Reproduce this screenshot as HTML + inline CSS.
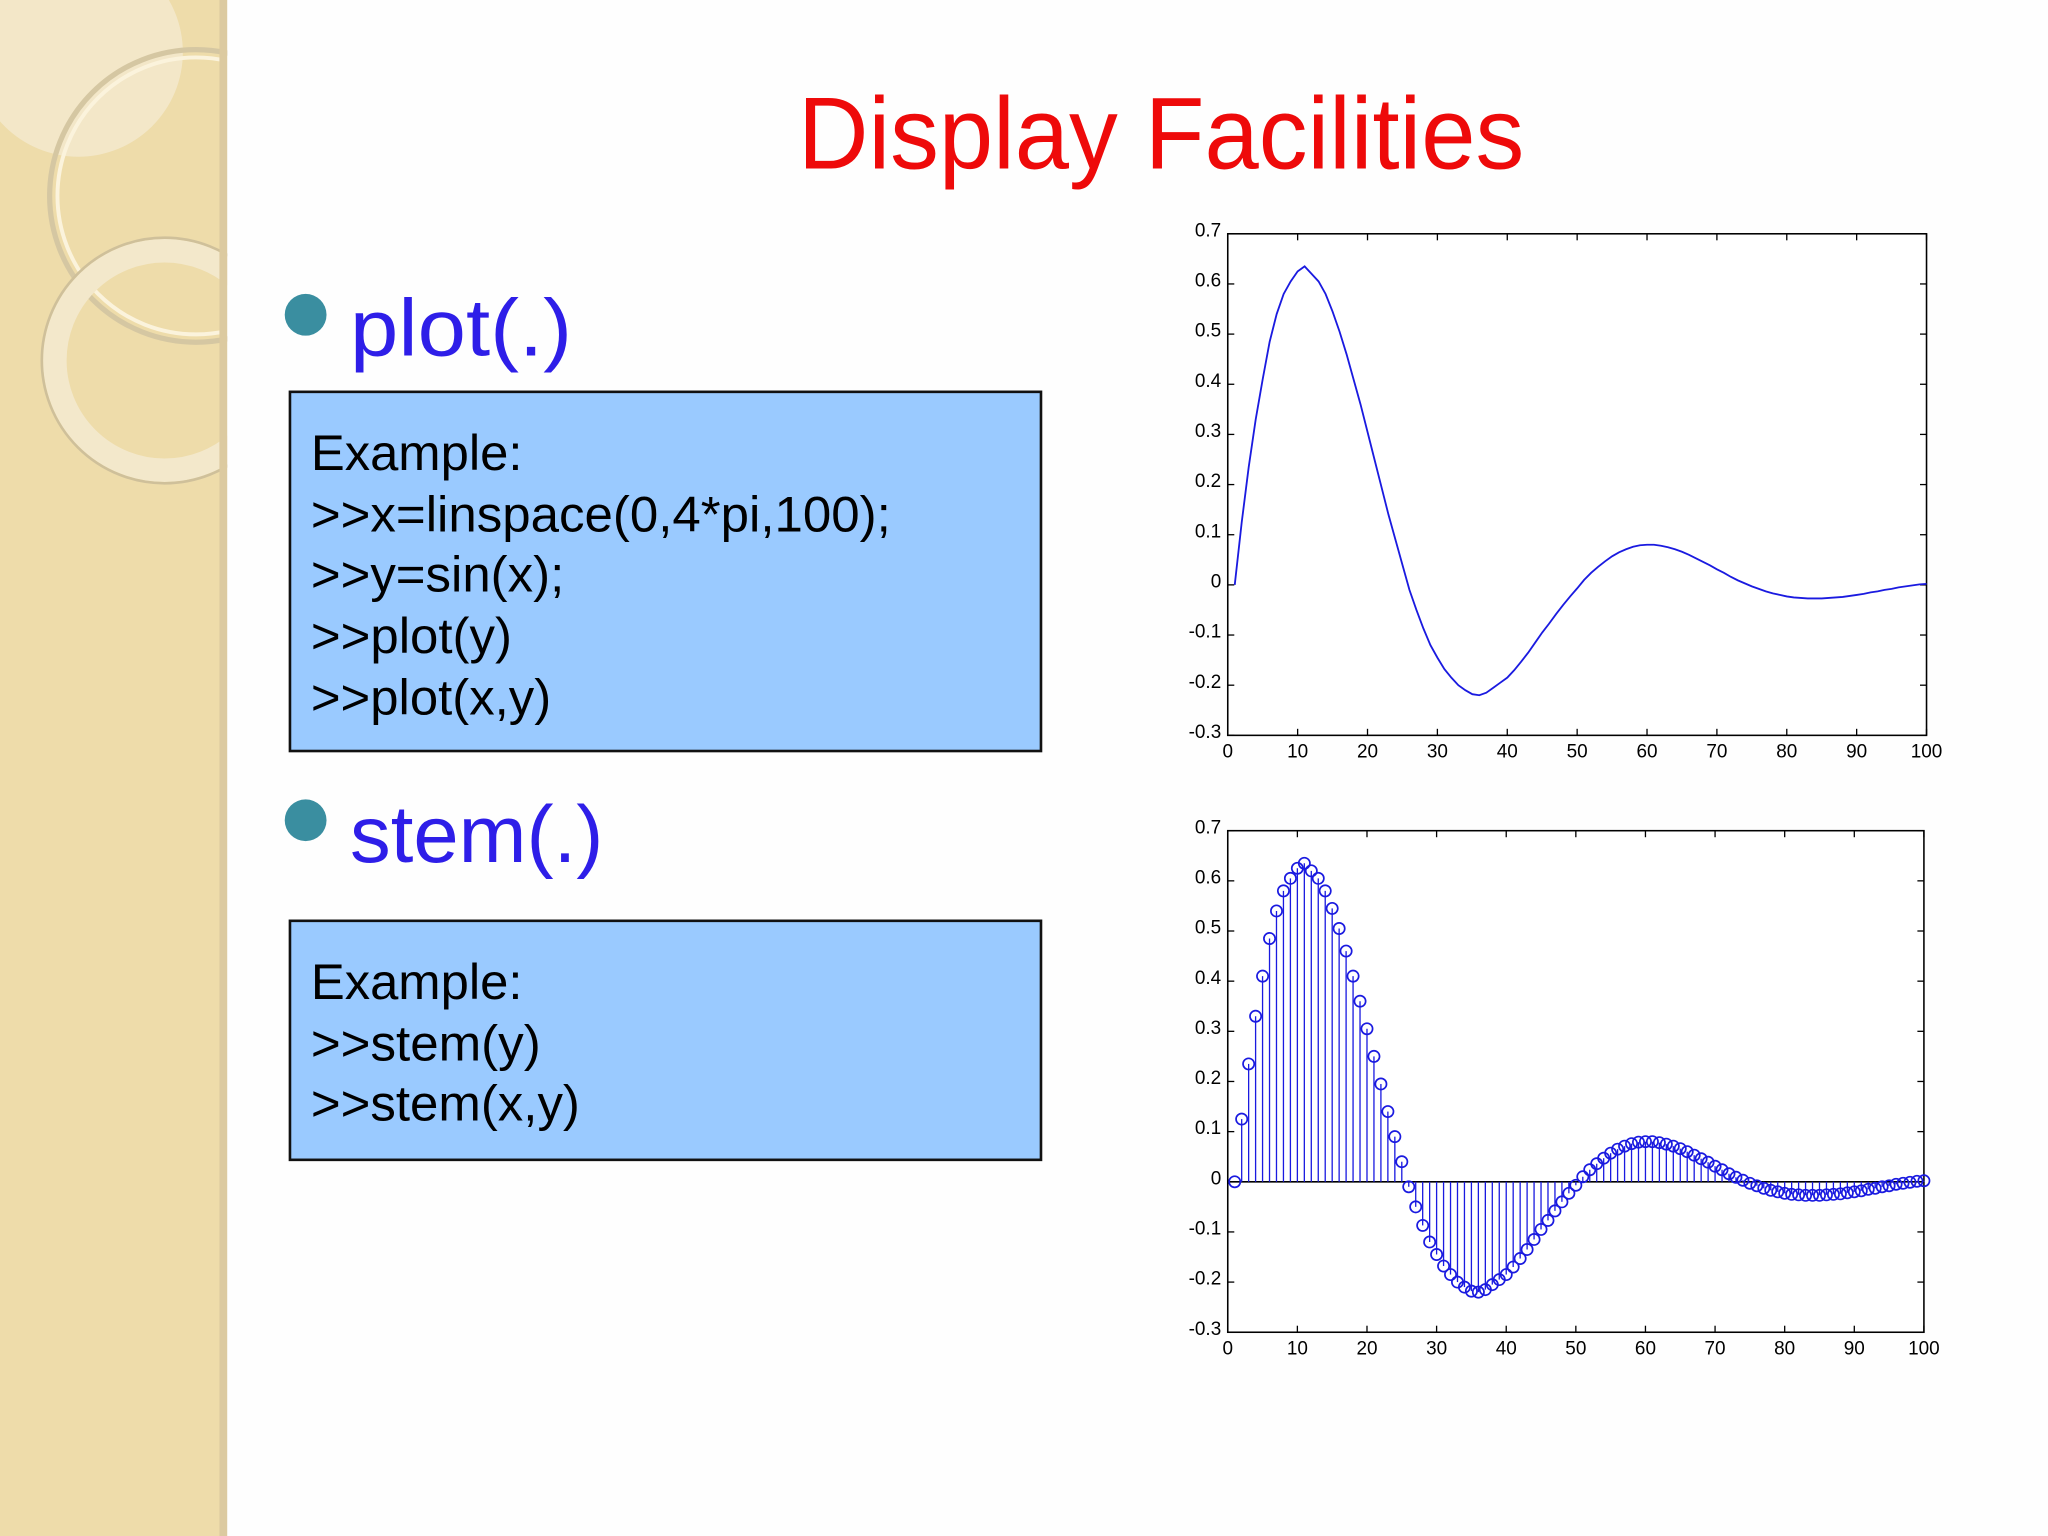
<!DOCTYPE html>
<html><head><meta charset="utf-8"><style>
html,body{margin:0;padding:0;background:#fff;}
svg{display:block;}
text{font-family:"Liberation Sans",sans-serif;}
</style></head><body>
<svg id="slide" width="2048" height="1536" viewBox="0 0 1568 1176" preserveAspectRatio="none" xmlns="http://www.w3.org/2000/svg">
<defs><clipPath id="panelclip"><rect x="0" y="0" width="174" height="1176"/></clipPath></defs>
<rect x="0" y="0" width="1568" height="1176" fill="#fefefe"/>
<g clip-path="url(#panelclip)">
<rect x="0" y="0" width="174" height="1176" fill="#eedcaa"/>
<circle cx="60" cy="40" r="80" fill="#f4ead0" opacity="0.8"/>
<circle cx="150" cy="150" r="112" fill="none" stroke="#d5c7a2" stroke-width="4"/>
<circle cx="150" cy="150" r="106" fill="none" stroke="#fbf3dc" stroke-width="3"/>
<circle cx="126" cy="276" r="84" fill="none" stroke="#f3e8cb" stroke-width="18"/>
<circle cx="126" cy="276" r="94" fill="none" stroke="#cfc09a" stroke-width="2"/>
<rect x="168" y="0" width="6" height="1176" fill="#dccaa0"/>
</g>
<text x="889" y="129" text-anchor="middle" font-size="78" fill="#ee0a0a" textLength="556" lengthAdjust="spacingAndGlyphs">Display Facilities</text>

<circle cx="234" cy="241" r="16" fill="#3a8ea0"/>
<text x="268" y="272" font-size="62" fill="#2e1ee8" textLength="170" lengthAdjust="spacingAndGlyphs">plot(.)</text>
<g>
<rect x="222" y="300" width="575" height="275" fill="#9acaff" stroke="#111" stroke-width="2"/>
<text x="238" y="360" font-size="38" fill="#000" textLength="162" lengthAdjust="spacingAndGlyphs">Example:</text>
<text x="238" y="407" font-size="38" fill="#000" textLength="444" lengthAdjust="spacingAndGlyphs">&gt;&gt;x=linspace(0,4*pi,100);</text>
<text x="238" y="453" font-size="38" fill="#000" textLength="194" lengthAdjust="spacingAndGlyphs">&gt;&gt;y=sin(x);</text>
<text x="238" y="500" font-size="38" fill="#000" textLength="154" lengthAdjust="spacingAndGlyphs">&gt;&gt;plot(y)</text>
<text x="238" y="547" font-size="38" fill="#000" textLength="184" lengthAdjust="spacingAndGlyphs">&gt;&gt;plot(x,y)</text>
</g>

<circle cx="234" cy="628" r="16" fill="#3a8ea0"/>
<text x="268" y="660" font-size="62" fill="#2e1ee8" textLength="194" lengthAdjust="spacingAndGlyphs">stem(.)</text>
<g>
<rect x="222" y="705" width="575" height="183" fill="#9acaff" stroke="#111" stroke-width="2"/>
<text x="238" y="765" font-size="38" fill="#000" textLength="162" lengthAdjust="spacingAndGlyphs">Example:</text>
<text x="238" y="812" font-size="38" fill="#000" textLength="176" lengthAdjust="spacingAndGlyphs">&gt;&gt;stem(y)</text>
<text x="238" y="858" font-size="38" fill="#000" textLength="206" lengthAdjust="spacingAndGlyphs">&gt;&gt;stem(x,y)</text>
</g>
<g id="plot-chart"></g>
<g id="stem-chart"></g>
</svg>
<script>
const yValues = [0,0.125,0.235,0.33,0.41,0.485,0.54,0.58,0.605,0.625,0.635,0.62,0.605,0.58,0.545,0.505,0.46,0.41,0.36,0.305,0.25,0.195,0.14,0.09,0.04,-0.01,-0.05,-0.087,-0.12,-0.145,-0.168,-0.185,-0.2,-0.21,-0.218,-0.22,-0.215,-0.205,-0.195,-0.185,-0.17,-0.153,-0.135,-0.115,-0.095,-0.077,-0.058,-0.04,-0.023,-0.007,0.01,0.024,0.036,0.047,0.057,0.065,0.071,0.076,0.079,0.08,0.08,0.078,0.075,0.071,0.066,0.06,0.053,0.046,0.039,0.031,0.024,0.016,0.009,0.003,-0.003,-0.008,-0.013,-0.017,-0.02,-0.023,-0.025,-0.026,-0.027,-0.027,-0.027,-0.026,-0.025,-0.024,-0.022,-0.02,-0.018,-0.015,-0.013,-0.01,-0.008,-0.005,-0.003,-0.001,0.001,0.002];
const xTicks = [0,10,20,30,40,50,60,70,80,90,100];
const yTicks = [-0.3,-0.2,-0.1,0,0.1,0.2,0.3,0.4,0.5,0.6,0.7];
const yTickLabels = ["-0.3","-0.2","-0.1","0","0.1","0.2","0.3","0.4","0.5","0.6","0.7"];
const NS = "http://www.w3.org/2000/svg";
function mk(tag, attrs, parent){const e=document.createElementNS(NS,tag);for(const k in attrs)e.setAttribute(k,attrs[k]);parent.appendChild(e);return e;}
function drawChart(g, box, kind){
  const xs = v => box.l + (v-0)/(100-0)*(box.r-box.l);
  const ys = v => box.b - (v+0.3)/(1.0)*(box.b-box.t);
  const frame = mk('rect',{x:box.l,y:box.t,width:box.r-box.l,height:box.b-box.t,fill:'#fff',stroke:'#000','stroke-width':1.2},g);
  
  
  xTicks.forEach(t=>{
    const x=xs(t);
    mk('line',{x1:x,y1:box.b,x2:x,y2:box.b-5,stroke:'#000','stroke-width':1},g);
    mk('line',{x1:x,y1:box.t,x2:x,y2:box.t+5,stroke:'#000','stroke-width':1},g);
    const tl=mk('text',{x:x,y:box.b+17,'text-anchor':'middle','font-size':14.5,fill:'#000'},g);
    tl.textContent=t;
    
    
  });
  yTicks.forEach((t,i)=>{
    const y=ys(t);
    mk('line',{x1:box.l,y1:y,x2:box.l+5,y2:y,stroke:'#000','stroke-width':1},g);
    mk('line',{x1:box.r,y1:y,x2:box.r-5,y2:y,stroke:'#000','stroke-width':1},g);
    const tl=mk('text',{x:box.l-5,y:y+2,'text-anchor':'end','font-size':14.5,fill:'#000'},g);
    tl.textContent=yTickLabels[i];
    
    
  });
  if(kind==='line'){
    const d=yValues.map((v,i)=>(i?'L':'M')+xs(i+1).toFixed(2)+' '+ys(v).toFixed(2)).join(' ');
    const p=mk('path',{d:d,fill:'none',stroke:'#1a1ae0','stroke-width':1.4},g);
    
    
  } else {
    const z=mk('line',{x1:box.l,y1:ys(0),x2:box.r,y2:ys(0),stroke:'#000','stroke-width':1.2},g);
    
    
    yValues.forEach((v,i)=>{
      const x=xs(i+1);
      const s=mk('line',{x1:x,y1:ys(0),x2:x,y2:ys(v),stroke:'#1a1ae0','stroke-width':1},g);
      
      
      const c=mk('circle',{cx:x,cy:ys(v),r:4.3,fill:'none',stroke:'#1a1ae0','stroke-width':1.3},g);
      
      
    });
  }
}
drawChart(document.getElementById('plot-chart'),{l:940,r:1475,t:179,b:563},'line');
drawChart(document.getElementById('stem-chart'),{l:940,r:1473,t:636,b:1020},'stem');
</script>
</body></html>
